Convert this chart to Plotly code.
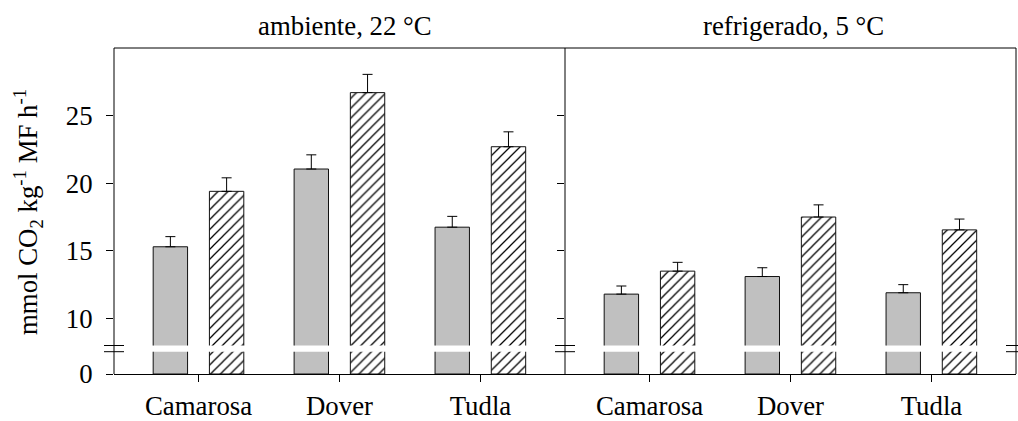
import plotly.graph_objects as go

# Respiration rate by cultivar, two storage temperatures
cultivars = ["Camarosa", "Dover", "Tudla"]

amb_grey = [15.3, 21.05, 16.75]
amb_grey_err = [0.75, 1.05, 0.8]
amb_hatch = [19.4, 26.7, 22.7]
amb_hatch_err = [1.0, 1.35, 1.1]

ref_grey = [11.8, 13.1, 11.9]
ref_grey_err = [0.6, 0.65, 0.6]
ref_hatch = [13.5, 17.5, 16.55]
ref_hatch_err = [0.65, 0.9, 0.8]

panel_titles = ["ambiente, 22 °C", "refrigerado, 5 °C"]
y_ticks_upper = [10, 15, 20, 25]
y_title = "mmol CO<sub>2</sub> kg<sup>-1</sup> MF h<sup>-1</sup>"

FONT = "Liberation Serif"
FS = 26.8
W, H = 1018, 421
L, R, T, B = 114, 2, 48, 47
PH = H - T - B  # plot height in px


def py(p):
    """Pixel row -> paper y."""
    return (H - B - p) / PH


def px(p):
    """Pixel column -> paper x."""
    return (p - L) / (W - L - R)


UP_DOM = [py(345.5), 1.0]
LO_DOM = [0.0, py(351.7)]

BAR_W = 0.244
OFF_GREY = -0.322
OFF_HATCH = 0.077

fig = go.Figure()


def add_bars(xa, yup, ylo, vals, errs, hatched):
    if hatched:
        marker = dict(color="white", line=dict(color="#111111", width=1),
                      pattern=dict(shape="/", fgcolor="black", bgcolor="white",
                                   size=7, solidity=0.18))
        off = OFF_HATCH
    else:
        marker = dict(color="#c0c0c0", line=dict(color="#111111", width=1))
        off = OFF_GREY
    idx = list(range(len(cultivars)))
    fig.add_trace(go.Bar(
        x=idx, y=vals, xaxis=xa, yaxis=yup, width=BAR_W, offset=off,
        marker=marker, showlegend=False,
        error_y=dict(type="data", symmetric=False, array=errs,
                     arrayminus=[0] * len(errs), color="black",
                     thickness=1, width=5),
    ))
    fig.add_trace(go.Bar(
        x=idx, y=vals, xaxis=xa, yaxis=ylo, width=BAR_W, offset=off,
        marker=marker, showlegend=False,
    ))


add_bars("x", "y", "y2", amb_grey, amb_grey_err, False)
add_bars("x", "y", "y2", amb_hatch, amb_hatch_err, True)
add_bars("x2", "y3", "y4", ref_grey, ref_grey_err, False)
add_bars("x2", "y3", "y4", ref_hatch, ref_hatch_err, True)

tickfont = dict(family=FONT, size=FS, color="black")

xcommon = dict(range=[-0.6, 2.6], tickvals=[0, 1, 2], ticktext=cultivars,
               ticks="outside", ticklen=7, tickcolor="black", tickwidth=1,
               showline=True, linecolor="black", linewidth=1,
               showgrid=False, zeroline=False, tickfont=tickfont,
               ticklabelstandoff=1, automargin=False, fixedrange=True)

yup_common = dict(domain=UP_DOM, range=[8, 30], tickvals=y_ticks_upper,
                  ticks="outside", ticklen=7, tickcolor="black", tickwidth=1,
                  showline=False, showgrid=False, zeroline=False,
                  tickfont=tickfont, automargin=False)
ylo_common = dict(domain=LO_DOM, range=[0, 1.65], tickvals=[0],
                  ticks="outside", ticklen=7, tickcolor="black", tickwidth=1,
                  showline=False, showgrid=False, zeroline=False,
                  tickfont=tickfont, automargin=False)

fig.update_layout(
    width=W, height=H,
    margin=dict(l=L, r=R, t=T, b=B),
    template="none",
    paper_bgcolor="white", plot_bgcolor="white",
    barmode="overlay",
    font=dict(family=FONT, size=FS, color="black"),
    xaxis=dict(domain=[0, 0.5], anchor="y2", **xcommon),
    xaxis2=dict(domain=[0.5, 1], anchor="y4", **xcommon),
    yaxis=dict(anchor="x", ticklabelstandoff=8, **yup_common),
    yaxis2=dict(anchor="x", ticklabelstandoff=8, **ylo_common),
    yaxis3=dict(anchor="x2", showticklabels=False, **yup_common),
    yaxis4=dict(anchor="x2", showticklabels=False, **ylo_common),
)

# Frame: continuous left, middle, right and top lines across the axis break
line = dict(color="black", width=1)
shapes = [
    dict(type="line", xref="paper", yref="paper", x0=0, x1=0, y0=0, y1=1, line=line),
    dict(type="line", xref="paper", yref="paper", x0=0.5, x1=0.5, y0=0, y1=1, line=line),
    dict(type="line", xref="paper", yref="paper", x0=1, x1=1, y0=0, y1=1, line=line),
    dict(type="line", xref="paper", yref="paper", x0=0, x1=1, y0=1, y1=1, line=line),
]
# Axis-break marks
half = 10 / (W - L - R)
for xc in (0, 0.5, 1):
    for yb in (UP_DOM[0], LO_DOM[1]):
        shapes.append(dict(type="line", xref="paper", yref="paper",
                           x0=xc - half, x1=xc + half, y0=yb, y1=yb, line=line))
fig.update_layout(shapes=shapes)

annotations = [
    dict(text=panel_titles[0], x=px(345), y=py(26), xref="paper", yref="paper",
         xanchor="center", yanchor="middle", showarrow=False,
         font=dict(family=FONT, size=FS, color="black")),
    dict(text=panel_titles[1], x=px(793), y=py(26), xref="paper", yref="paper",
         xanchor="center", yanchor="middle", showarrow=False,
         font=dict(family=FONT, size=FS, color="black")),
    dict(text=y_title, x=px(28), y=py(212), xref="paper", yref="paper",
         xanchor="center", yanchor="middle", textangle=-90, showarrow=False,
         font=dict(family=FONT, size=FS, color="black")),
]
fig.update_layout(annotations=annotations)

fig.write_html("out.html")
